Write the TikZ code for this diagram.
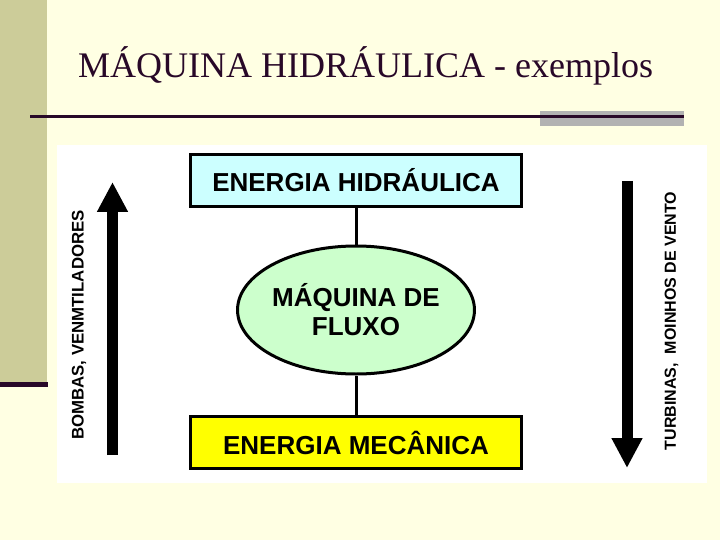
\documentclass[tikz,border=0pt]{standalone}
\usepackage{fontspec}
\setmainfont{Liberation Serif}
\setsansfont{Liberation Sans}
\usepackage{xcolor}
\usepackage{tikz}
\usetikzlibrary{arrows.meta, positioning, shapes.geometric}

\definecolor{pagebg}{RGB}{255,255,227}
\definecolor{bandcol}{RGB}{204,204,153}
\definecolor{titlecol}{RGB}{40,8,40}
\definecolor{barcol}{RGB}{178,178,178}
\definecolor{hydrofill}{RGB}{204,255,255}
\definecolor{machfill}{RGB}{204,255,204}
\definecolor{mechfill}{RGB}{255,255,0}

\begin{document}
\begin{tikzpicture}[
  x=1pt, y=-1pt,
  energybox/.style={
    rectangle, draw=black, line width=3pt,
    minimum width=331pt, minimum height=52pt, inner sep=0pt,
    font=\sffamily\bfseries\fontsize{26}{28}\selectfont
  },
  machinenode/.style={
    ellipse, draw=black, line width=3pt, fill=machfill,
    minimum width=234pt, minimum height=128pt, inner sep=0pt,
    font=\sffamily\bfseries\fontsize{26}{29}\selectfont, align=center
  },
  linkedge/.style={draw, line width=3pt, black},
  flowarrow/.style={draw, line width=11pt, black,
    -{Triangle[length=30pt, width=29pt]}},
  sidelabel/.style={rotate=90, inner sep=0pt,
    font=\sffamily\bfseries\fontsize{16.8}{19}\selectfont},
]
\useasboundingbox (0,0) rectangle (720,540);

% ============================================================
% SLIDE BACKGROUND
% ============================================================
\fill[pagebg] (0,0) rectangle (720,540);
\fill[bandcol] (0,0) rectangle (47,382);
\fill[titlecol] (0,382) rectangle (48,387);
\fill[barcol] (540,111) rectangle (684,126);
\draw[titlecol, line width=3pt] (30,117) -- (684,117);
\node[anchor=base west, inner sep=0pt, text=titlecol,
      font=\fontsize{36}{40}\selectfont] (title) at (78,78)
  {MÁQUINA HIDRÁULICA - exemplos};
\fill[white] (57,145) rectangle (707,483);

% ============================================================
% ENERGY CHAIN
% ============================================================
\node[energybox, fill=hydrofill] (hydro) at (356,180.5) {ENERGIA HIDRÁULICA};
\node[machinenode] (machine) at (356,310) {MÁQUINA DE\\FLUXO};
\node[energybox, fill=mechfill] (mech) at (356,442.5) {ENERGIA MECÂNICA};

\draw[linkedge] (hydro.south) -- (machine.north);
\draw[linkedge] (machine.south) -- (mech.north);

% ============================================================
% SIDE ARROWS: pumps (up) and turbines (down)
% ============================================================
\coordinate (pumpfoot) at (112.5,455);
\coordinate (pumptip) at (112.5,182);
\coordinate (turbtop) at (627,181);
\coordinate (turbtip) at (627,468);

\draw[flowarrow] (pumpfoot) -- (pumptip);
\draw[flowarrow] (turbtop) -- (turbtip);

\node[sidelabel] (pumplabel) at (79,325) {BOMBAS, VENMTILADORES};
\node[sidelabel, font=\sffamily\bfseries\fontsize{16}{19}\selectfont]
  (turblabel) at (671.5,321) {TURBINAS,~ MOINHOS DE VENTO};

\end{tikzpicture}
\end{document}
